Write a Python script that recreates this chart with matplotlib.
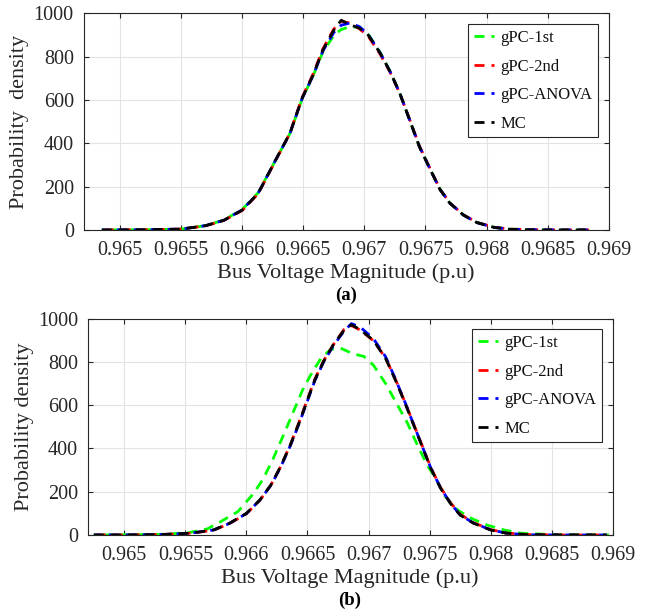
import matplotlib
matplotlib.use('Agg')
import matplotlib.pyplot as plt
from matplotlib.ticker import FuncFormatter, MultipleLocator

plt.rcParams['font.family'] = ['Liberation Serif', 'DejaVu Serif']

# ---- data ----
labels = ['gPC-1st', 'gPC-2nd', 'gPC-ANOVA', 'MC']
colors = ['#00ff00', '#ff0000', '#0000ff', '#000000']

# panel (a)
xa = [0.96485, 0.9652, 0.9655, 0.9657, 0.96585, 0.9660, 0.96613, 0.96628,
      0.96639, 0.96649, 0.96658, 0.96666, 0.96675, 0.96681, 0.96688, 0.96696,
      0.96703, 0.96713, 0.96721, 0.96729, 0.96737, 0.96745, 0.96754, 0.96762,
      0.9677, 0.96781, 0.96792, 0.96806, 0.96819, 0.9684, 0.9686, 0.96885]
a_1st = [0, 1, 4, 20, 46, 95, 172, 330, 445, 605, 712, 822, 898, 925, 938, 935,
         905, 818, 733, 630, 508, 386, 280, 188, 125, 70, 35, 13, 4, 1, 0, 0]
a_2nd = [0, 1, 4, 19, 44, 90, 167, 328, 447, 612, 720, 836, 928, 963, 955, 928,
         895, 810, 728, 630, 510, 388, 280, 187, 125, 70, 35, 13, 4, 1, 0, 0]
a_anova = [0, 1, 4, 20, 45, 93, 170, 330, 445, 607, 713, 826, 912, 945, 955, 938,
           903, 816, 731, 630, 508, 385, 278, 186, 124, 69, 34, 12, 3, 1, 0, 0]
a_mc = [0, 1, 4, 20, 45, 92, 169, 331, 446, 608, 715, 831, 923, 968, 948, 931,
        900, 815, 731, 631, 508, 384, 277, 185, 123, 69, 34, 12, 3, 0, 0, 0]

# panel (b)
xb = [0.96475, 0.9650, 0.9653, 0.96554, 0.96573, 0.96586, 0.9660, 0.96611,
      0.9662, 0.96628, 0.96636, 0.96643, 0.9665, 0.96656, 0.96663, 0.96671,
      0.9668, 0.96686, 0.96693, 0.96704, 0.96714, 0.96722, 0.9673, 0.96737,
      0.96744, 0.96751, 0.96759, 0.96767, 0.96775, 0.96786, 0.968, 0.96813,
      0.9683, 0.9686, 0.96895]
b_2nd = [0, 0, 2, 8, 22, 52, 98, 160, 230, 316, 418, 520, 628, 720, 803, 878,
         950, 968, 948, 898, 818, 720, 612, 512, 412, 312, 220, 150, 96, 57,
         25, 9, 2, 0, 0]
b_anova = [0, 0, 2, 8, 23, 53, 99, 161, 229, 313, 413, 513, 620, 713, 797, 873,
           943, 977, 962, 908, 824, 722, 612, 510, 410, 310, 218, 148, 93, 55,
           24, 8, 1, 0, 0]
b_mc = [0, 0, 2, 8, 23, 54, 100, 162, 231, 316, 416, 516, 624, 716, 800, 878,
        947, 972, 950, 900, 816, 716, 608, 508, 408, 308, 216, 146, 92, 54,
        23, 8, 1, 0, 0]

xb_1st = [0.96475, 0.9650, 0.9653, 0.96552, 0.96568, 0.96579, 0.96593, 0.96606,
          0.96614, 0.96622, 0.96631, 0.96639, 0.96646, 0.96654, 0.96661, 0.96669,
          0.96677, 0.96688, 0.96696, 0.96704, 0.96714, 0.96723, 0.96732, 0.9674,
          0.96748, 0.96755, 0.96763, 0.96773, 0.96784, 0.96797, 0.96811, 0.96825,
          0.9685, 0.96897]
b_1st = [0, 1, 3, 10, 28, 62, 108, 193, 262, 354, 470, 577, 670, 754, 816, 858,
         864, 836, 826, 785, 700, 608, 516, 416, 323, 262, 177, 115, 77, 46,
         23, 8, 2, 0]

xticks = [0.965, 0.9655, 0.966, 0.9665, 0.967, 0.9675, 0.968, 0.9685, 0.969]
AX_COLOR = '#262626'
DASH = (3.6, 2.5)
# small phase shifts so the overlapping curves peek out in their own colour
DASH_OFFSETS = [2.9, 5.4, 0.7, 0.0]


def draw_panel(ax, series, ylabel, legend_anchor):
    for (x, y), lab, col, off in zip(series, labels, colors, DASH_OFFSETS):
        ax.plot(x, y, color=col, lw=2.0, linestyle=(off, DASH), label=lab)

    ax.set_xlim(0.9647, 0.969)
    ax.set_ylim(0, 1000)
    ax.set_xticks(xticks)
    ax.xaxis.set_major_formatter(FuncFormatter(lambda v, p: f'{v:g}'))
    ax.yaxis.set_major_locator(MultipleLocator(200))

    ax.grid(True, color='#e3e3e3', lw=0.8)
    ax.set_axisbelow(True)
    for sp in ax.spines.values():
        sp.set_color(AX_COLOR)
        sp.set_linewidth(0.8)
    ax.tick_params(direction='in', length=3.6, width=0.8, color=AX_COLOR,
                   top=True, right=True, labelsize=14.5, labelcolor=AX_COLOR)
    ax.tick_params(axis='x', pad=8)
    ax.tick_params(axis='y', pad=7)

    ax.set_xlabel('Bus Voltage Magnitude (p.u)', fontsize=16,
                  color=AX_COLOR, labelpad=2)
    ax.set_ylabel(ylabel, fontsize=16, color=AX_COLOR, labelpad=3)

    leg = ax.legend(loc='upper right', bbox_to_anchor=legend_anchor,
                    borderaxespad=0, fontsize=12, handlelength=1.2,
                    handletextpad=0.4, labelspacing=0.75, borderpad=0.35,
                    fancybox=False, framealpha=1)
    leg.get_frame().set_edgecolor(AX_COLOR)
    leg.get_frame().set_linewidth(0.8)
    for h in leg.legend_handles:
        h.set_linestyle((0, DASH))
    for t in leg.get_texts():
        t.set_color('#111111')


fig = plt.figure(figsize=(6.56, 6.10), dpi=100)

ax1 = fig.add_axes([0.1273, 0.6230, 0.8006, 0.3552])
draw_panel(ax1, [(xa, a_1st), (xa, a_2nd), (xa, a_anova), (xa, a_mc)],
           'Probability  density', (0.9802, 0.9492))

ax2 = fig.add_axes([0.1337, 0.1230, 0.8003, 0.3546])
draw_panel(ax2, [(xb_1st, b_1st), (xb, b_2nd), (xb, b_anova), (xb, b_mc)],
           'Probability density', (0.9802, 0.951))

fig.text(0.5274, 0.5164, '(a)', ha='center', va='center',
         fontsize=13.5, fontweight='bold')
fig.text(0.5335, 0.0164, '(b)', ha='center', va='center',
         fontsize=13.5, fontweight='bold')

fig.savefig('out.png', dpi=100)
